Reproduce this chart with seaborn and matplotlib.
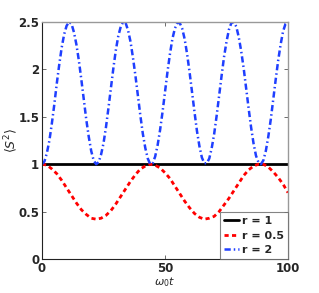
import numpy as np
import pandas as pd
import matplotlib
matplotlib.use("Agg")
import matplotlib.pyplot as plt
import seaborn as sns

# r = 1 : constant
t_r1 = [0, 100]
s_r1 = [1.0, 1.0]

# r = 2, step 1
t_r2 = list(range(0, 101))
s_r2 = [1.00, 1.03, 1.12, 1.25, 1.43, 1.63, 1.85, 2.05, 2.23, 2.37,
        2.46, 2.50, 2.48, 2.39, 2.26, 2.09, 1.89, 1.68, 1.47, 1.29,
        1.14, 1.04, 1.00, 1.02, 1.10, 1.22, 1.39, 1.59, 1.80, 2.01,
        2.20, 2.35, 2.45, 2.50, 2.49, 2.41, 2.29, 2.12, 1.93, 1.72,
        1.51, 1.32, 1.17, 1.06, 1.00, 1.01, 1.08, 1.20, 1.36, 1.55,
        1.76, 1.97, 2.16, 2.32, 2.43, 2.49, 2.49, 2.43, 2.32, 2.16,
        1.97, 1.76, 1.55, 1.35, 1.19, 1.07, 1.01, 1.01, 1.06, 1.17,
        1.32, 1.51, 1.72, 1.93, 2.13, 2.29, 2.42, 2.49, 2.50, 2.45,
        2.34, 2.19, 2.01, 1.80, 1.59, 1.39, 1.22, 1.09, 1.02, 1.00,
        1.04, 1.14, 1.29, 1.47, 1.68, 1.89, 2.09, 2.26, 2.40, 2.48,
        2.50]

# r = 0.5, step 2
t_r05 = list(range(0, 101, 2))
s_r05 = [1.00, 0.99, 0.95, 0.90, 0.83, 0.75, 0.67, 0.59, 0.52, 0.47,
         0.43, 0.42, 0.43, 0.46, 0.51, 0.58, 0.66, 0.74, 0.82, 0.89,
         0.95, 0.98, 1.00, 0.99, 0.96, 0.91, 0.85, 0.77, 0.69, 0.61,
         0.54, 0.48, 0.44, 0.42, 0.43, 0.45, 0.50, 0.57, 0.64, 0.72,
         0.80, 0.88, 0.94, 0.98, 1.00, 1.00, 0.97, 0.92, 0.86, 0.79,
         0.70]

x_ticks = [0, 50, 100]
y_ticks = [0, 0.5, 1, 1.5, 2, 2.5]
y_ticklabels = ["0", "0.5", "1", "1.5", "2", "2.5"]

sns.set_style("ticks")
plt.rcParams["font.family"] = ["DejaVu Sans"]

fig = plt.figure(figsize=(3.19, 2.93), dpi=100)
ax = fig.add_axes([0.1317, 0.116, 0.771, 0.809])

sns.lineplot(x=t_r1, y=s_r1, ax=ax, color="black", linewidth=2.0, label="r = 1")
sns.lineplot(x=t_r05, y=s_r05, ax=ax, color="#ff0000", linewidth=2.0, label="r = 0.5")
ax.lines[-1].set_dashes([1.5, 1.2])
sns.lineplot(x=t_r2, y=s_r2, ax=ax, color="#1f3fff", linewidth=1.8, label="r = 2")
ax.lines[-1].set_dashes([2.5, 1.2, 0.6, 1.2])

ax.set_xlim(0, 100)
ax.set_ylim(0, 2.5)
ax.set_xticks(x_ticks)
ax.set_yticks(y_ticks)
ax.set_yticklabels(y_ticklabels)
ax.tick_params(direction="in", top=True, right=True, length=3, width=0.6,
               labelsize=8.5, pad=2, color="#555555")
for lab in ax.get_xticklabels() + ax.get_yticklabels():
    lab.set_fontweight("bold")

for side in ["left", "bottom"]:
    ax.spines[side].set_color("#222222")
    ax.spines[side].set_linewidth(0.8)
for side in ["top", "right"]:
    ax.spines[side].set_visible(True)
    ax.spines[side].set_color("#999999")
    ax.spines[side].set_linewidth(1.0)

ax.set_xlabel(r"$\omega_0 t$", fontsize=8, labelpad=0)
ax.set_ylabel(r"$\langle S^2\rangle$", fontsize=9)
ax.yaxis.set_label_coords(-0.088, 0.5)

leg = ax.legend(loc="lower right", fontsize=8, frameon=True, fancybox=False,
                borderaxespad=0.0, handlelength=1.3, handletextpad=0.3,
                labelspacing=0.4, borderpad=0.35)
leg.get_frame().set_edgecolor("#666666")
leg.get_frame().set_linewidth(0.8)
for txt in leg.get_texts():
    txt.set_fontweight("bold")

fig.savefig("out.png", dpi=100)
